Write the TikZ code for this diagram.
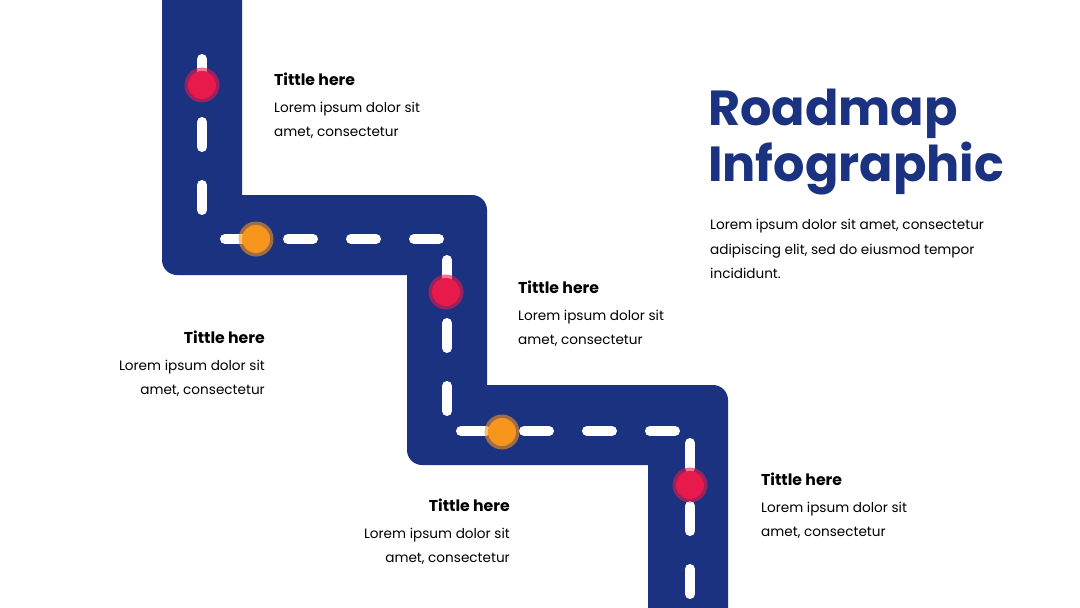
\documentclass[tikz,border=0pt]{standalone}
\usepackage{fontspec}
\setmainfont{Poppins}
\definecolor{navy}{HTML}{1B3281}
\definecolor{pinkred}{HTML}{E8194B}
\definecolor{orng}{HTML}{F8951D}
\tikzset{
  road/.style={fill=navy},
  lane/.style={draw=white, line width=10pt, line cap=round},
  ttl/.style={font=\fontsize{15.7}{18}\selectfont\bfseries, inner sep=0pt},
  bodytxt/.style={font=\fontsize{13.6}{16}\selectfont, inner sep=0pt},
  bigttl/.style={font=\fontsize{49.3}{56}\selectfont\bfseries, text=navy, inner sep=0pt, anchor=base west},
  ring/.style={opacity=0.6},
}
\newcommand\roadstop[4]{%
  \fill[#3, ring] (#1,#2) circle[radius=17.5pt];
  \fill[#3] (#1,#2) circle[radius=14pt] coordinate (#4);}
\begin{document}
\begin{tikzpicture}[x=1pt,y=1pt]
\useasboundingbox (0,0) rectangle (1080,-608);
\fill[white] (0,0) rectangle (1080,-608);
% road
\fill[road] (162,0) -- (242,0) -- (242,-195) -- (472,-195)
  arc[start angle=90,end angle=0,radius=15pt] -- (487,-385) -- (713,-385)
  arc[start angle=90,end angle=0,radius=15pt] -- (728,-608) -- (648,-608)
  -- (648,-465) -- (422,-465)
  arc[start angle=270,end angle=180,radius=15pt] -- (407,-275) -- (177,-275)
  arc[start angle=270,end angle=180,radius=15pt] -- cycle;
% lane markings
\foreach \a/\b in {59/84,122/147,185/210} \draw[lane] (202,-\a) -- (202,-\b);
\foreach \a/\b in {225/250,288/313,351/376,414/439} \draw[lane] (\a,-239) -- (\b,-239);
\foreach \a/\b in {260/285,323/348,386/411} \draw[lane] (447,-\a) -- (447,-\b);
\foreach \a/\b in {461/486,524/549,587/612,650/675} \draw[lane] (\a,-431) -- (\b,-431);
\foreach \a/\b in {443/468,506/531,569/594} \draw[lane] (690,-\a) -- (690,-\b);
% stops
\roadstop{202}{-85}{pinkred}{s1}
\roadstop{256}{-239}{orng}{s2}
\roadstop{446}{-292}{pinkred}{s3}
\roadstop{502}{-432}{orng}{s4}
\roadstop{690}{-485}{pinkred}{s5}
% text blocks
\node[ttl, anchor=base west] (t1) at (274,-85) {Tittle here};
\node[bodytxt, anchor=base west] (t1a) at (274,-112) {Lorem ipsum dolor sit};
\node[bodytxt, anchor=base west] (t1b) at (274,-136) {amet, consectetur};
\node[ttl, anchor=base west] (t2) at (518,-293) {Tittle here};
\node[bodytxt, anchor=base west] (t2a) at (518,-320) {Lorem ipsum dolor sit};
\node[bodytxt, anchor=base west] (t2b) at (518,-344) {amet, consectetur};
\node[ttl, anchor=base east] (t3) at (265,-343) {Tittle here};
\node[bodytxt, anchor=base east] (t3a) at (265,-370) {Lorem ipsum dolor sit};
\node[bodytxt, anchor=base east] (t3b) at (265,-394) {amet, consectetur};
\node[ttl, anchor=base east] (t4) at (510,-511) {Tittle here};
\node[bodytxt, anchor=base east] (t4a) at (510,-538) {Lorem ipsum dolor sit};
\node[bodytxt, anchor=base east] (t4b) at (510,-562) {amet, consectetur};
\node[ttl, anchor=base west] (t5) at (761,-485) {Tittle here};
\node[bodytxt, anchor=base west] (t5a) at (761,-512) {Lorem ipsum dolor sit};
\node[bodytxt, anchor=base west] (t5b) at (761,-536) {amet, consectetur};
% main heading
\node[bigttl] (h1) at (708,-125) {Roadmap};
\node[bigttl] (h2) at (708,-181) {Infographic};
\node[bodytxt, anchor=base west] (p1) at (710,-229) {Lorem ipsum dolor sit amet, consectetur};
\node[bodytxt, anchor=base west] (p2) at (710,-254) {adipiscing elit, sed do eiusmod tempor};
\node[bodytxt, anchor=base west] (p3) at (710,-278) {incididunt.};
\end{tikzpicture}
\end{document}
